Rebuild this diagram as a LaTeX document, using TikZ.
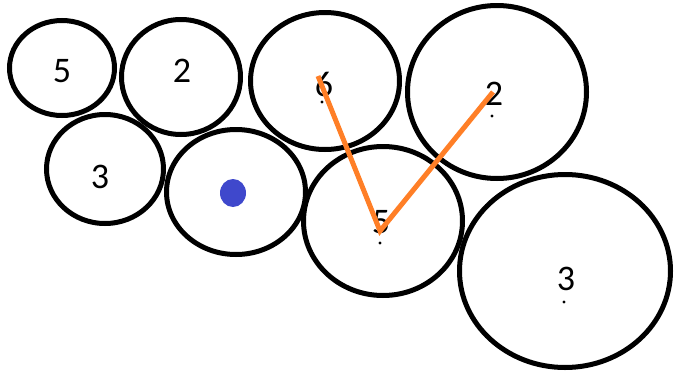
\documentclass[tikz,border=0pt]{standalone}
\usepackage{fontspec}
\setmainfont{Carlito}
\usetikzlibrary{shapes.geometric}
\tikzset{every node/.style={font=\fontsize{36}{36}\selectfont}}

\begin{document}
\begin{tikzpicture}[x=1pt, y=-1pt]
  % Colors of the sketch.
  \definecolor{pathcol}{RGB}{255,127,39}
  \definecolor{tokencol}{RGB}{63,72,204}
  \tikzset{
    cell/.style={draw, ellipse, line width=5pt, inner sep=0pt},
    num/.style={inner sep=0pt},
  }

  % Canvas.
  \useasboundingbox (0,0) rectangle (675,378);

  % Cells of the board.
  \node[cell, minimum width=105, minimum height=95]  (c1) at (62,68) {};
  \node[cell, minimum width=119, minimum height=115] (c2) at (181,77) {};
  \node[cell, minimum width=149, minimum height=137] (c3) at (325,81) {};
  \node[cell, minimum width=179, minimum height=173] (c4) at (497,92) {};
  \node[cell, minimum width=117, minimum height=109] (c5) at (105,169) {};
  \node[cell, minimum width=139, minimum height=125] (c6) at (236,192) {};
  \node[cell, minimum width=159, minimum height=149] (c7) at (383,221) {};
  \node[cell, minimum width=211, minimum height=193] (c8) at (565,271) {};

  % Numbers in the cells.
  \node[num] (n1) at (62,71)  {5};
  \node[num] (n2) at (182,71) {2};
  \node[num] (n3) at (324,84) {6};
  \node[num] (n4) at (494,94) {2};
  \node[num] (n5) at (100,177) {3};
  \node[num] (n7) at (381,222) {5};
  \node[num] (n8) at (566,279) {3};

  % Small marks under some numbers.
  \fill (322,102) circle (1.7);
  \fill (492,116) circle (1.7);
  \fill (380,243) circle (1.7);
  \fill (564,302) circle (1.7);

  % Token.
  \fill[tokencol] (233,193) ellipse (13 and 14);

  % Move path.
  \coordinate (a) at (318,76);
  \coordinate (b) at (380,231);
  \coordinate (c) at (493,92);
  \draw[pathcol, line width=5pt] (a) -- (b) -- (c);

\end{tikzpicture}
\end{document}
